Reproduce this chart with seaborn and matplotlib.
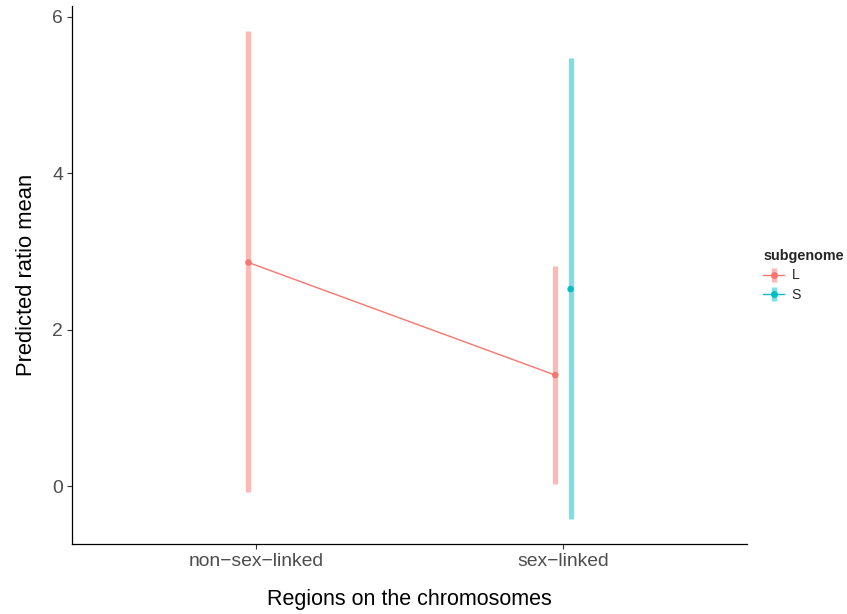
import matplotlib
matplotlib.use("Agg")
import matplotlib.pyplot as plt
import seaborn as sns
import pandas as pd
from matplotlib.lines import Line2D

regions = ["non\u2212sex\u2212linked", "sex\u2212linked"]
subgenome = ["L", "L", "S"]
region_of = ["non\u2212sex\u2212linked", "sex\u2212linked", "sex\u2212linked"]
mean = [2.86, 1.42, 2.52]
lower = [-0.08, 0.03, -0.42]
upper = [5.82, 2.82, 5.47]

colors = {"L": "#F8766D", "S": "#00BFC4"}
offset = {"L": -0.025, "S": 0.025}

df = pd.DataFrame({"region": region_of, "subgenome": subgenome,
                   "mean": mean, "lower": lower, "upper": upper})
df["x"] = [regions.index(r) + 1 + offset[s] for r, s in zip(df["region"], df["subgenome"])]

sns.set_style("white")
plt.rcParams['font.family'] = ['Liberation Sans', 'DejaVu Sans']

fig = plt.figure(figsize=(8.47, 6.14), dpi=100)
ax = fig.add_axes([72/847, 70/614, 675/847, 538/614])

for s, g in df.groupby("subgenome"):
    ax.vlines(g["x"], g["lower"], g["upper"], color=colors[s], alpha=0.5,
              linewidth=3.8, zorder=2)

sns.lineplot(data=df[df["subgenome"] == "L"], x="x", y="mean", color=colors["L"],
             linewidth=1.0, ax=ax, legend=False, zorder=3)
sns.scatterplot(data=df, x="x", y="mean", hue="subgenome", palette=colors,
                s=22, edgecolor="none", ax=ax, legend=False, zorder=4)

ax.set_xlim(0.4, 2.6)
ax.set_ylim(-0.74, 6.14)
ax.set_xticks([1, 2])
ax.set_xticklabels(regions)
ax.set_yticks([0, 2, 4, 6])
ax.tick_params(axis="both", which="both", length=3.5, width=0.8, color="#333333",
               labelcolor="#4D4D4D", labelsize=13.9, bottom=True, left=True, pad=3)
for side in ["top", "right"]:
    ax.spines[side].set_visible(False)
for side in ["left", "bottom"]:
    ax.spines[side].set_color("black")
    ax.spines[side].set_linewidth(0.9)

ax.set_xlabel("Regions on the chromosomes", fontsize=15.5, labelpad=14, color="black")
ax.set_ylabel("Predicted ratio mean", fontsize=15.8, labelpad=11, color="black")

handles = []
for s in ["L", "S"]:
    h_line = Line2D([], [], color=colors[s], linewidth=1.0)
    h_bar = Line2D([], [], color=colors[s], alpha=0.5, marker="|", markersize=10.5,
                   markeredgewidth=3.8, linestyle="none")
    h_pt = Line2D([], [], color=colors[s], marker="o", markersize=4.0, linestyle="none")
    handles.append((h_line, h_bar, h_pt))

leg = fig.legend(handles, ["L", "S"], title="subgenome", loc="upper left",
                 bbox_to_anchor=(756/847, 1 - 242/614), frameon=False, borderpad=0,
                 fontsize=10.2, title_fontsize=10.4, handlelength=1.5,
                 handletextpad=0.5, labelspacing=0.38, alignment="left")
leg.get_title().set_fontweight("bold")

fig.savefig("out.png", dpi=100)
